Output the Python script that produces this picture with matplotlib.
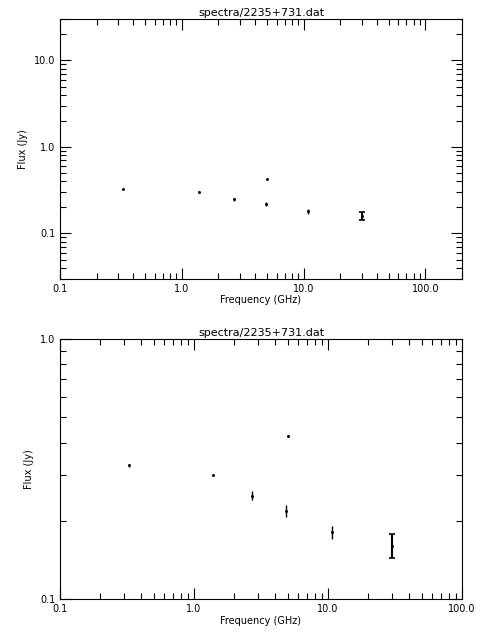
import matplotlib
matplotlib.use('Agg')
import matplotlib.pyplot as plt
from matplotlib.ticker import FixedLocator, FixedFormatter, LogLocator, NullFormatter

# spectrum points
freq = [0.33, 1.39, 2.7, 5.0, 4.89, 10.8, 30.0]
flux = [0.327, 0.301, 0.250, 0.425, 0.219, 0.181, 0.161]
err = [0.004, 0.002, 0.010, 0.003, 0.011, 0.011, 0.017]

title = 'spectra/2235+731.dat'

plt.rcParams['font.family'] = 'DejaVu Sans'
plt.rcParams['font.size'] = 7

fig = plt.figure(figsize=(4.8, 6.4), dpi=100)


def setup(ax, xlim, ylim, yticks, xticks):
    ax.set_xscale('log')
    ax.set_yscale('log')
    ax.set_xlim(*xlim)
    ax.set_ylim(*ylim)
    ax.xaxis.set_major_locator(FixedLocator(xticks))
    ax.xaxis.set_major_formatter(FixedFormatter(['%.1f' % t for t in xticks]))
    ax.yaxis.set_major_locator(FixedLocator(yticks))
    ax.yaxis.set_major_formatter(FixedFormatter(['%.1f' % t for t in yticks]))
    for axis in (ax.xaxis, ax.yaxis):
        axis.set_minor_locator(LogLocator(subs=range(2, 10)))
        axis.set_minor_formatter(NullFormatter())
    ax.tick_params(which='both', direction='in', top=True, right=True, width=0.8)
    ax.tick_params(which='major', length=8)
    ax.tick_params(which='minor', length=4)
    ax.set_xlabel('Frequency (GHz)', labelpad=1)
    ax.set_ylabel('Flux (Jy)')
    ax.set_title(title, fontsize=8, pad=2)
    # small points without caps, the 30 GHz point drawn with caps
    ax.errorbar(freq[:-1], flux[:-1], yerr=err[:-1], fmt='none', ecolor='black',
                elinewidth=1.0, capsize=0)
    ax.errorbar(freq[-1:], flux[-1:], yerr=err[-1:], fmt='none', ecolor='black',
                elinewidth=1.5, capsize=2, capthick=1.2)
    ax.plot(freq, flux, 's', color='black', markersize=1.0)


ax1 = fig.add_axes([0.125, 0.5645, 0.8375, 0.4055])
setup(ax1, (0.1, 200), (0.03, 30), [0.1, 1.0, 10.0], [0.1, 1.0, 10.0, 100.0])

ax2 = fig.add_axes([0.125, 0.0636, 0.8375, 0.4064])
setup(ax2, (0.1, 100), (0.1, 1.0), [0.1, 1.0], [0.1, 1.0, 10.0, 100.0])

fig.savefig('out.png', dpi=100)
